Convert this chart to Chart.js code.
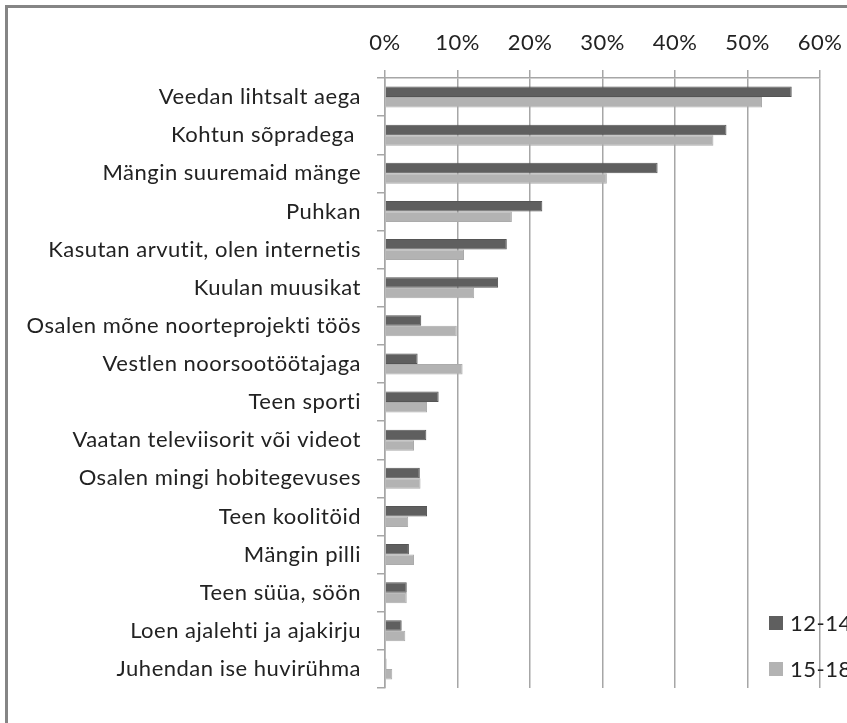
<!DOCTYPE html>
<html>
<head>
<meta charset="utf-8">
<script src="https://cdn.jsdelivr.net/npm/chart.js@4/dist/chart.umd.min.js"></script>
<style>
  html, body { margin: 0; padding: 0; background: #fff; }
  #wrap { position: relative; width: 847px; height: 723px; overflow: hidden; }
  #frame { position: absolute; left: 5px; top: 5px; width: 1000px; height: 1000px;
           border-left: 3px solid #858585; border-top: 3px solid #858585; box-sizing: border-box; pointer-events: none; }
  canvas { position: absolute; left: 0; top: 0; }
</style>
</head>
<body>
<div id="wrap">
  <canvas id="c" width="847" height="723"></canvas>
  <div id="frame"></div>
</div>
<script>
const categories = [
  "Veedan lihtsalt aega",
  "Kohtun sõpradega ",
  "Mängin suuremaid mänge",
  "Puhkan",
  "Kasutan arvutit, olen internetis",
  "Kuulan muusikat",
  "Osalen mõne noorteprojekti töös",
  "Vestlen noorsootöötajaga",
  "Teen sporti",
  "Vaatan televiisorit või videot",
  "Osalen mingi hobitegevuses",
  "Teen koolitöid",
  "Mängin pilli",
  "Teen süüa, söön",
  "Loen ajalehti ja ajakirju",
  "Juhendan ise huvirühma"
];
const seriesNames = ["12-14", "15-18"];
const values1214 = [56.1, 47.1, 37.6, 21.7, 16.8, 15.6, 5.0, 4.5, 7.4, 5.7, 4.8, 5.8, 3.3, 3.0, 2.3, 0.2];
const values1518 = [52.0, 45.3, 30.6, 17.5, 10.9, 12.3, 9.9, 10.7, 5.8, 4.0, 4.9, 3.2, 4.0, 3.0, 2.8, 1.0];
const xTicks = [0, 10, 20, 30, 40, 50, 60];

const FONT = "Lato, 'Open Sans', sans-serif";
const TEXT = "#222222";

const spacingPlugin = {
  id: 'noLigatures',
  beforeDraw(chart) { chart.ctx.letterSpacing = '0.5px'; }
};

const legendPlugin = {
  id: 'cornerLegend',
  afterDraw(chart) {
    const ctx = chart.ctx;
    const a = chart.chartArea;
    ctx.save();
    ctx.font = "22px " + FONT;
    ctx.textBaseline = 'middle';
    ctx.textAlign = 'left';
    chart.data.datasets.forEach((ds, i) => {
      const y = a.bottom - 65 + i * 46;
      const x = a.right - 51;
      ctx.fillStyle = ds.backgroundColor;
      ctx.fillRect(x, y - 7, 14, 14);
      ctx.fillStyle = TEXT;
      ctx.fillText(ds.label, x + 21, y + 1);
    });
    ctx.restore();
  }
};

new Chart(document.getElementById('c'), {
  type: 'bar',
  data: {
    labels: categories,
    datasets: [
      { label: seriesNames[0], data: values1214, backgroundColor: '#5f5f5f', borderColor: '#555555', borderWidth: 1,
        categoryPercentage: 0.55, barPercentage: 1.0 },
      { label: seriesNames[1], data: values1518, backgroundColor: '#b3b3b3', borderColor: '#ababab', borderWidth: 1,
        categoryPercentage: 0.55, barPercentage: 1.0 }
    ]
  },
  options: {
    indexAxis: 'y',
    responsive: false,
    animation: false,
    layout: { padding: { left: 6, right: 27, top: 10, bottom: 35 } },
    plugins: { legend: { display: false }, tooltip: { enabled: false } },
    scales: {
      x: {
        position: 'top',
        min: 0, max: 60,
        afterBuildTicks(scale) { scale.ticks = xTicks.map(v => ({ value: v })); },
        afterFit(scale) { scale.height = 68; scale.paddingLeft = 0; scale.paddingRight = 0; },
        ticks: { callback: v => v + '%', color: TEXT, font: { family: FONT, size: 22 }, padding: 14 },
        grid: { color: '#a6a6a6', lineWidth: 1.5, tickLength: 8, drawTicks: true },
        border: { color: '#a6a6a6', width: 1.5 }
      },
      y: {
        afterFit(scale) { scale.width = 379; scale.paddingTop = 0; scale.paddingBottom = 0; },
        ticks: { color: TEXT, font: { family: FONT, size: 22 }, padding: 16, autoSkip: false },
        grid: { drawOnChartArea: false, color: '#a6a6a6', lineWidth: 1.5, tickLength: 8, offset: true },
        border: { color: '#a6a6a6', width: 1.5 }
      }
    }
  },
  plugins: [spacingPlugin, legendPlugin]
});
</script>
</body>
</html>
